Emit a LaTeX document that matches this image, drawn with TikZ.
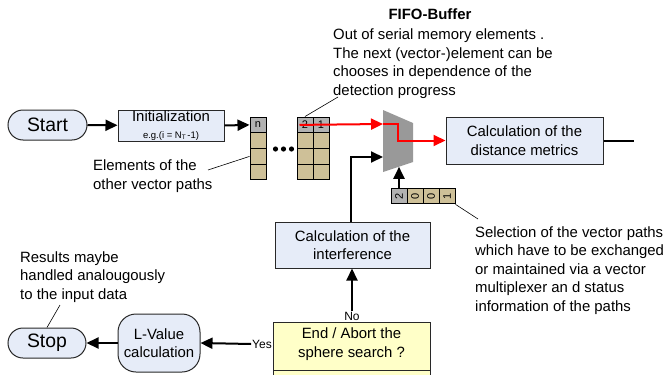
\documentclass[tikz,border=0pt]{standalone}
\usepackage{fontspec}
\setmainfont{Liberation Sans}
\usetikzlibrary{arrows.meta,shapes.misc}
\definecolor{boxblue}{RGB}{230,236,248}
\definecolor{tancell}{RGB}{206,192,152}
\definecolor{cellgray}{RGB}{178,178,178}
\definecolor{muxgray}{RGB}{153,153,153}
\definecolor{decyellow}{RGB}{255,255,200}
\definecolor{edgecol}{RGB}{40,40,40}
\begin{document}
\begin{tikzpicture}[x=1pt,y=-1pt,
 every node/.style={font=\fontsize{14.9}{18.5}\selectfont},
 box/.style={draw=edgecol, line width=1pt, fill=boxblue, inner sep=0pt, align=center},
 term/.style={box, rounded rectangle, font=\fontsize{19.4}{22}\selectfont},
 cellt/.style={draw=black, line width=1pt, fill=tancell, minimum width=16pt, minimum height=15.75pt, inner sep=0pt, font=\fontsize{11}{11}\selectfont},
 cellg/.style={cellt, fill=cellgray},
 arr/.style={line width=2pt, -{Triangle[length=12pt,width=11pt]}},
 redarr/.style={draw=red, line width=2pt, -{Triangle[length=12pt,width=11pt]}},
 leader/.style={line width=0.6pt},
 txt/.style={align=left, inner sep=0pt}
]
\useasboundingbox (0,0) rectangle (667,375);

% terminals and boxes
\node[term, minimum width=79pt, minimum height=30pt] (start) at (47.5,125) {Start};
\node[box, minimum width=106pt, minimum height=31pt] (init) at (171,125.5)
  {Initialization\\[-2pt]{\fontsize{9.5}{10}\selectfont e.g.(i = N\raisebox{-1.5pt}{\fontsize{6.5}{7}\selectfont T}\,-1)}};
\node[box, minimum width=157pt, minimum height=47pt] (dist) at (524.5,140.5) {Calculation of the\\distance metrics};
\node[box, minimum width=155pt, minimum height=46pt] (interf) at (352.5,245) {Calculation of the\\interference};
\node[box, rounded corners=18pt, minimum width=82pt, minimum height=58pt] (lval) at (159,343) {L-Value\\calculation};
\node[term, minimum width=78pt, minimum height=30pt] (stop) at (47,343) {Stop};

% n column
\node[cellg] (n0) at (258,124.9) {n};
\node[cellt] (n1) at (258,140.6) {};
\node[cellt] (n2) at (258,156.4) {};
\node[cellt] (n3) at (258,172.1) {};
\fill (275.5,149) circle (2.6pt) (283.5,149) circle (2.6pt) (291.5,149) circle (2.6pt);

% FIFO block
\node[cellg] (b01) at (305,124.9) {2};
\node[cellg] (b02) at (321,124.9) {1};
\node[cellt] (b11) at (305,140.6) {};
\node[cellt] (b12) at (321,140.6) {};
\node[cellt] (b21) at (305,156.4) {};
\node[cellt] (b22) at (321,156.4) {};
\node[cellt] (b31) at (305,172.1) {};
\node[cellt] (b32) at (321,172.1) {};

% multiplexer
\fill[muxgray] (383,110) -- (413,123) -- (413,162) -- (383,172) -- cycle;
\coordinate (muxin1) at (383,124);
\coordinate (muxin2) at (383,157);
\coordinate (muxbot) at (399,166.8);

% selection vector
\node[cellg] (s1) at (399,196) {\rotatebox{90}{2}};
\node[cellt] (s2) at (415,196) {\rotatebox{90}{0}};
\node[cellt] (s3) at (431,196) {\rotatebox{90}{0}};
\node[cellt] (s4) at (447,196) {\rotatebox{90}{1}};

% decision box
\fill[decyellow] (273,322) rectangle (430,375);
\draw[edgecol, line width=1pt] (273,375) -- (273,322) -- (430,322) -- (430,375);
\draw[edgecol, line width=1pt] (273,370) -- (430,370);
\node[align=center, inner sep=0pt] (dec) at (351.5,344) {End / Abort the\\sphere search ?};
\node[inner sep=1pt, font=\fontsize{12}{12}\selectfont, anchor=south] (no) at (352,322) {No};
\node[inner sep=1pt, font=\fontsize{12}{12}\selectfont, anchor=east] (yes) at (273,344) {Yes};

% texts
\node[font=\bfseries\fontsize{14.9}{18.5}\selectfont, inner sep=0pt] (fifot) at (430,14) {FIFO-Buffer};
\node[txt, anchor=north west] (fifo) at (333,29) {Out of serial memory elements .\\The next (vector-)element can be\\chooses in dependence of the\\detection progress};
\node[txt, anchor=north west] (elem) at (93,160) {Elements of the\\other vector paths};
\node[txt, anchor=north west] (sel) at (475,226) {Selection of the vector paths\\which have to be exchanged\\or maintained via a vector\\multiplexer an d status\\information of the paths};
\node[txt, anchor=north west] (res) at (20,251) {Results maybe\\handled analougously\\to the input data};

\coordinate (fifoleader) at (338,97);
\coordinate (elemleader) at (208,170);
\coordinate (selleader) at (478,219);
\coordinate (resleader) at (60,305);
\coordinate (distout) at (634,140.5);

% connectors
\draw[arr] (start) -- (init);
\draw[arr] (init.east) -- (n0.west);
\draw[redarr] ([xshift=3pt]b01.west) -- (muxin1);
\draw[redarr] (muxin1) -- (398,124) -- (398,140.5) -- (dist.west);
\draw[line width=2pt] (dist.east) -- (distout);
\draw[arr] (interf.north -| 351,0) -- (351,157) -- (muxin2);
\draw[arr] (s1.north) -- (muxbot);
\draw[arr] (no.north) -- (interf.south -| no.north);
\draw[arr] (yes.west) -- (lval.east);
\draw[arr] (lval.west) -- (stop.east);

\draw[leader] (fifoleader) -- (b01.north);
\draw[leader] (elemleader) -- (n2.west);
\draw[leader] (s4.south east) -- (selleader);
\draw[leader] (resleader) -- (stop.north);
\end{tikzpicture}
\end{document}
